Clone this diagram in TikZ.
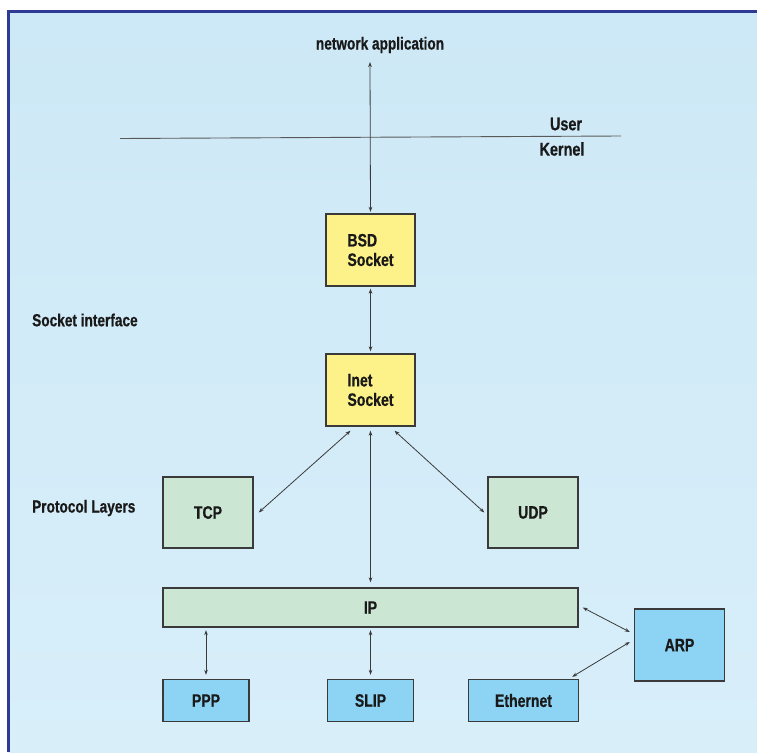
\documentclass[tikz,border=0pt]{standalone}
\usepackage{fontspec}
\newfontfamily\cf[FakeStretch=0.78,FakeBold=0.6]{Liberation Sans}
\usetikzlibrary{arrows.meta,calc}
\definecolor{bgA}{HTML}{CDE8F6}
\definecolor{bgB}{HTML}{D8EFFA}
\definecolor{frameblue}{HTML}{2E3A94}
\definecolor{boxyellow}{HTML}{FDF28A}
\definecolor{boxgreen}{HTML}{CCE6D4}
\definecolor{boxblue}{HTML}{8DD4F4}
\definecolor{edge}{HTML}{3A3A3A}
\tikzset{
  box/.style={draw=edge, line width=1.4pt, rectangle, inner sep=0pt,
    font=\cf\bfseries\fontsize{18}{19.5}\selectfont, text=black!90},
  ybox/.style={box, fill=boxyellow, align=left},
  gbox/.style={box, fill=boxgreen},
  bbox/.style={box, fill=boxblue},
  lbl/.style={font=\cf\bfseries\fontsize{17.5}{19}\selectfont, text=black!90, inner sep=0pt},
  arr/.style={draw=edge, line width=0.8pt, {Stealth[length=5pt,width=3.6pt]}-{Stealth[length=5pt,width=3.6pt]}},
  rule/.style={draw=black!65, line width=0.9pt}
}
\begin{document}
\begin{tikzpicture}[x=1pt,y=-1pt]
\useasboundingbox (0,0) rectangle (757,752);
\fill[white] (0,0) rectangle (757,752);
\shade[left color=bgA, right color=bgB, shading angle=0] (8.5,11.5) rectangle (757,752);
\draw[frameblue, line width=3pt] (8.5,752) -- (8.5,11.5) -- (757,11.5);

\node[lbl] (app) at (380,45) {network application};
\coordinate (apptip) at (370,62);
\coordinate (ruleL) at (120,138.5);
\coordinate (ruleR) at (621,136);
\draw[rule] (ruleL) -- (ruleR);
\node[lbl, font=\cf\bfseries\fontsize{18.5}{20}\selectfont] (user) at (566,124) {User};
\node[lbl, font=\cf\bfseries\fontsize{18.5}{20}\selectfont] (kernel) at (562,149) {Kernel};

\node[lbl, anchor=west] (sockif) at (32,320) {Socket interface};
\node[lbl, anchor=west] (protl) at (32,508) {Protocol Layers};

\node[ybox, minimum width=89pt, minimum height=72pt] (bsd) at (370.5,250) {BSD\\Socket};
\node[ybox, minimum width=89pt, minimum height=72pt] (inet) at (370.5,390) {Inet\\Socket};
\node[gbox, minimum width=90pt, minimum height=71pt] (tcp) at (208,512.5) {TCP};
\node[gbox, minimum width=90pt, minimum height=71pt] (udp) at (533,512.5) {UDP};
\node[gbox, minimum width=415pt, minimum height=39pt] (ip) at (370.5,607.5) {IP};
\node[bbox, minimum width=90pt, minimum height=72pt] (arp) at (679.5,645) {ARP};
\node[bbox, minimum width=86pt, minimum height=42pt] (ppp) at (206,700.5) {PPP};
\node[bbox, minimum width=86pt, minimum height=42pt] (slip) at (370.5,700.5) {SLIP};
\node[bbox, minimum width=110pt, minimum height=42pt] (eth) at (523.5,700.5) {Ethernet};

\draw[arr] (apptip) -- ([yshift=1.5pt]bsd.north);
\draw[arr] ([yshift=-2pt]bsd.south) -- ([yshift=2pt]inet.north);
\draw[arr] ([xshift=-20pt,yshift=-4pt]inet.south) -- ([xshift=5pt]tcp.east);
\draw[arr] ([xshift=24pt,yshift=-4pt]inet.south) -- ([xshift=-3pt]udp.west);
\draw[arr] ([yshift=-4pt]inet.south) -- ([yshift=5pt]ip.north);
\draw[arr] ([yshift=-2.5pt]ppp.north |- ip.south) -- ([yshift=4pt]ppp.north);
\draw[arr] ([yshift=-2.5pt]slip.north |- ip.south) -- ([yshift=4pt]slip.north);
\draw[arr] ([xshift=4pt]ip.east) -- ([xshift=-4pt,yshift=13pt]arp.west);
\draw[arr] ([xshift=-4pt,yshift=3pt]arp.west) -- ([xshift=-7pt,yshift=2pt]eth.north east);
\end{tikzpicture}
\end{document}
